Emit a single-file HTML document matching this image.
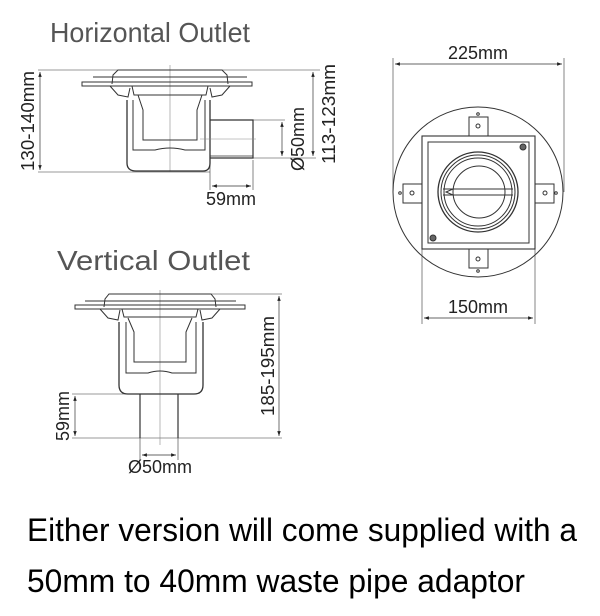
<!DOCTYPE html>
<html><head><meta charset="utf-8"><style>
html,body{margin:0;padding:0;background:#fff;}
svg{display:block;}
text{font-family:"Liberation Sans",sans-serif;}
</style></head><body>
<svg width="600" height="616" viewBox="0 0 600 616" xmlns="http://www.w3.org/2000/svg">
<defs>
<marker id="a" viewBox="0 0 10 10" refX="10" refY="5" markerWidth="7" markerHeight="7" orient="auto-start-reverse"><path d="M0,1.5 L10,5 L0,8.5 z" fill="#222"/></marker>
</defs>
<rect width="600" height="616" fill="#fff"/>
<text x="50" y="42" font-size="28" fill="#555" textLength="200" lengthAdjust="spacingAndGlyphs">Horizontal Outlet</text>
<text x="57" y="270" font-size="28" fill="#555" textLength="193" lengthAdjust="spacingAndGlyphs">Vertical Outlet</text>

<g fill="none" stroke="#333" stroke-width="1">
<!-- ===== Horizontal outlet ===== -->
<line x1="38" y1="70" x2="320" y2="70" stroke-width="0.6"/>
<line x1="38" y1="172" x2="210" y2="172" stroke-width="0.6"/>
<line x1="40" y1="72" x2="40" y2="170" marker-start="url(#a)" marker-end="url(#a)" stroke-width="0.7"/>
<line x1="170" y1="65" x2="170" y2="172" stroke="#888" stroke-width="0.6"/>
<rect x="82" y="82" width="170" height="4"/>
<path d="M93,77 L247,77"/>
<path d="M112,84 L113,75 L118,70 L222,70 L227,75 L228,84"/>
<path d="M110,86 L118,95 L128,97 L130,88 M230,86 L222,95 L212,97 L210,88"/>
<path d="M132,86 L208,86 L206,95 L134,95 Z"/>
<path d="M127,100 L127,163 Q127,171 136,171 L203,171 Q210,171 210,163 L210,100" stroke-width="1.3"/>
<path d="M133,100 L133,150 L155,150 Q170,146 185,150 L205,150 L205,100"/>
<path d="M138,95 L143,110 L143,140 L197,140 L197,110 L202,95"/>
<path d="M210,120 L253,120 L253,158 L210,158" stroke-width="1.2"/>
<line x1="210" y1="156" x2="253" y2="156" stroke-width="0.8"/>
<line x1="200" y1="139" x2="256" y2="139" stroke="#888" stroke-width="0.5"/>
<line x1="253" y1="120" x2="285" y2="120" stroke-width="0.6"/>
<line x1="253" y1="158" x2="316" y2="158" stroke-width="0.6"/>
<line x1="282" y1="122" x2="282" y2="156" marker-start="url(#a)" marker-end="url(#a)" stroke-width="0.7"/>
<line x1="313" y1="72" x2="313" y2="156" marker-start="url(#a)" marker-end="url(#a)" stroke-width="0.7"/>
<line x1="210" y1="160" x2="210" y2="190" stroke-width="0.6"/>
<line x1="253" y1="160" x2="253" y2="190" stroke-width="0.6"/>
<line x1="212" y1="186" x2="251" y2="186" marker-start="url(#a)" marker-end="url(#a)" stroke-width="0.7"/>

<!-- ===== Vertical outlet ===== -->
<line x1="175" y1="294" x2="282" y2="294" stroke-width="0.6"/>
<line x1="72" y1="438" x2="282" y2="438" stroke-width="0.6"/>
<line x1="72" y1="394" x2="140" y2="394" stroke-width="0.6"/>
<line x1="279" y1="296" x2="279" y2="436" marker-start="url(#a)" marker-end="url(#a)" stroke-width="0.7"/>
<line x1="75" y1="396" x2="75" y2="436" marker-start="url(#a)" marker-end="url(#a)" stroke-width="0.7"/>
<line x1="160" y1="290" x2="160" y2="445" stroke="#888" stroke-width="0.6"/>
<rect x="75" y="305" width="170" height="4"/>
<path d="M85,301 L236,301"/>
<path d="M104,307 L105,299 L109,294 L211,294 L215,299 L216,307"/>
<path d="M100,309 L108,318 L118,320 L120,310 M220,309 L212,318 L202,320 L200,310"/>
<path d="M122,309 L198,309 L196,317 L124,317 Z"/>
<path d="M119,322 L119,385 Q119,394 128,394 L194,394 Q203,394 203,385 L203,322" stroke-width="1.3"/>
<path d="M126,322 L126,373 L148,373 Q160,369 172,373 L196,373 L196,322"/>
<path d="M128,318 L134,332 L134,362 L186,362 L186,332 L192,318"/>
<path d="M140,394 L140,438 M178,394 L178,438" stroke-width="1.2"/>
<line x1="140" y1="438" x2="140" y2="460" stroke-width="0.6"/>
<line x1="178" y1="438" x2="178" y2="460" stroke-width="0.6"/>
<line x1="142" y1="455" x2="176" y2="455" marker-start="url(#a)" marker-end="url(#a)" stroke-width="0.7"/>

<!-- ===== Plan view ===== -->
<circle cx="478" cy="192" r="85"/>
<line x1="393" y1="58" x2="393" y2="192" stroke-width="0.6"/>
<line x1="564" y1="58" x2="564" y2="192" stroke-width="0.6"/>
<line x1="395" y1="64" x2="562" y2="64" marker-start="url(#a)" marker-end="url(#a)" stroke-width="0.7"/>
<rect x="469" y="117" width="19" height="19"/>
<rect x="469" y="249" width="19" height="19"/>
<rect x="403" y="184" width="19" height="19"/>
<rect x="535" y="184" width="19" height="19"/>
<circle cx="478" cy="126" r="2"/><circle cx="478" cy="259" r="2"/>
<circle cx="412" cy="193" r="2"/><circle cx="545" cy="193" r="2"/>
<circle cx="400" cy="193" r="1.3"/><circle cx="556" cy="193" r="1.3"/>
<circle cx="478" cy="114" r="1.3"/><circle cx="478" cy="271" r="1.3"/>
<rect x="422" y="136" width="113" height="113" fill="#fff" stroke-width="1.1"/>
<rect x="428" y="142" width="101" height="101"/>
<circle cx="478" cy="192" r="40" stroke-width="1.3"/>
<circle cx="478" cy="192" r="37"/>
<circle cx="478" cy="192" r="34"/>
<circle cx="479" cy="192" r="26"/>
<path d="M443,189 L513,189 M443,195 L513,195 M453,189 L446,192 L453,195"/>
<circle cx="523" cy="147" r="3" fill="#666"/>
<circle cx="433" cy="238" r="3" fill="#666"/>
<line x1="422" y1="249" x2="422" y2="324" stroke-width="0.6"/>
<line x1="535" y1="249" x2="535" y2="324" stroke-width="0.6"/>
<line x1="424" y1="318" x2="533" y2="318" marker-start="url(#a)" marker-end="url(#a)" stroke-width="0.7"/>
</g>

<g font-size="18" fill="#222">
<text transform="translate(34,121) rotate(-90)" text-anchor="middle" textLength="100" lengthAdjust="spacingAndGlyphs">130-140mm</text>
<text transform="translate(304,139) rotate(-90)" text-anchor="middle">Ø50mm</text>
<text transform="translate(335,114) rotate(-90)" text-anchor="middle" textLength="100" lengthAdjust="spacingAndGlyphs">113-123mm</text>
<text x="231" y="205" text-anchor="middle">59mm</text>
<text transform="translate(274,366) rotate(-90)" text-anchor="middle" textLength="100" lengthAdjust="spacingAndGlyphs">185-195mm</text>
<text transform="translate(69,416) rotate(-90)" text-anchor="middle">59mm</text>
<text x="160" y="473" text-anchor="middle">Ø50mm</text>
<text x="478" y="59" text-anchor="middle">225mm</text>
<text x="478" y="313" text-anchor="middle">150mm</text>
</g>

<text x="27" y="541" font-size="32" fill="#000" textLength="550" lengthAdjust="spacingAndGlyphs">Either version will come supplied with a</text>
<text x="27" y="592" font-size="32" fill="#000" textLength="498" lengthAdjust="spacingAndGlyphs">50mm to 40mm waste pipe adaptor</text>
</svg>
</body></html>
